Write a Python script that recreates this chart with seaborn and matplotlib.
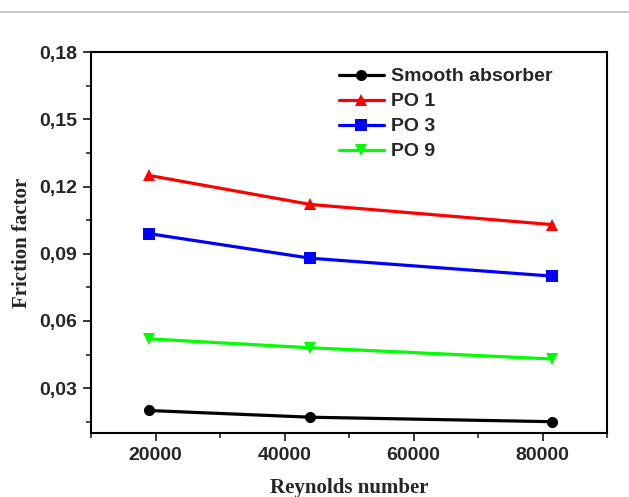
import matplotlib
matplotlib.use("Agg")
import matplotlib.pyplot as plt
from matplotlib.lines import Line2D
from matplotlib.ticker import MultipleLocator, FuncFormatter
import seaborn as sns
import pandas as pd

reynolds = [18900, 44000, 81500]
smooth = [0.020, 0.017, 0.015]
po1 = [0.125, 0.112, 0.103]
po3 = [0.099, 0.088, 0.080]
po9 = [0.052, 0.048, 0.043]
series_names = ["Smooth absorber", "PO 1", "PO 3", "PO 9"]

rows = []
for name, vals in zip(series_names, [smooth, po1, po3, po9]):
    for x, y in zip(reynolds, vals):
        rows.append({"Re": x, "f": y, "series": name})
df = pd.DataFrame(rows)

sns.set_style("ticks")
plt.rcParams["font.family"] = ["Liberation Sans", "DejaVu Sans"]

fig = plt.figure(figsize=(6.29, 4.97), dpi=100)
ax = fig.add_axes([0.145, 0.129, 0.820, 0.766])

palette = {"Smooth absorber": "#000000", "PO 1": "#ff0000", "PO 3": "#0000ff", "PO 9": "#00ff00"}
markers = {"Smooth absorber": "o", "PO 1": "^", "PO 3": "s", "PO 9": "v"}

sns.lineplot(data=df, x="Re", y="f", hue="series", style="series",
             hue_order=series_names, style_order=series_names,
             palette=palette, markers=markers, dashes=False,
             linewidth=2.3, markersize=8, markeredgewidth=0, ax=ax)

ax.set_xlim(10000, 90000)
ax.set_ylim(0.01, 0.18)
ax.xaxis.set_major_locator(MultipleLocator(20000))
ax.xaxis.set_minor_locator(MultipleLocator(10000))
ax.yaxis.set_major_locator(MultipleLocator(0.03))
ax.yaxis.set_minor_locator(MultipleLocator(0.015))
ax.yaxis.set_major_formatter(FuncFormatter(lambda v, p: f"{v:.2f}".replace(".", ",")))
ax.xaxis.set_major_formatter(FuncFormatter(lambda v, p: f"{int(round(v))}"))

for s in ax.spines.values():
    s.set_linewidth(1.5)
    s.set_color("black")
ax.tick_params(which="major", direction="out", length=6, width=1.3, labelsize=14, pad=4)
ax.tick_params(which="minor", direction="out", length=3.5, width=1.2)
for lab in ax.get_xticklabels() + ax.get_yticklabels():
    lab.set_fontweight("bold")

ax.set_xlabel("Reynolds number", family=["Liberation Serif", "DejaVu Serif"],
              fontweight="bold", fontsize=15, labelpad=10)
ax.set_ylabel("Friction factor", family=["Liberation Serif", "DejaVu Serif"],
              fontweight="bold", fontsize=15, labelpad=5)

leg = ax.legend(loc="upper right", bbox_to_anchor=(0.92, 0.995), frameon=False,
                prop={"family": "Liberation Sans", "weight": "bold", "size": 14},
                handlelength=2.3, handletextpad=0.35, labelspacing=0.38, borderaxespad=0.3)

fig.add_artist(Line2D([0, 1], [0.976, 0.976], transform=fig.transFigure,
                      color="#c0c0c0", linewidth=1.2))

fig.savefig("out.png", dpi=100)
